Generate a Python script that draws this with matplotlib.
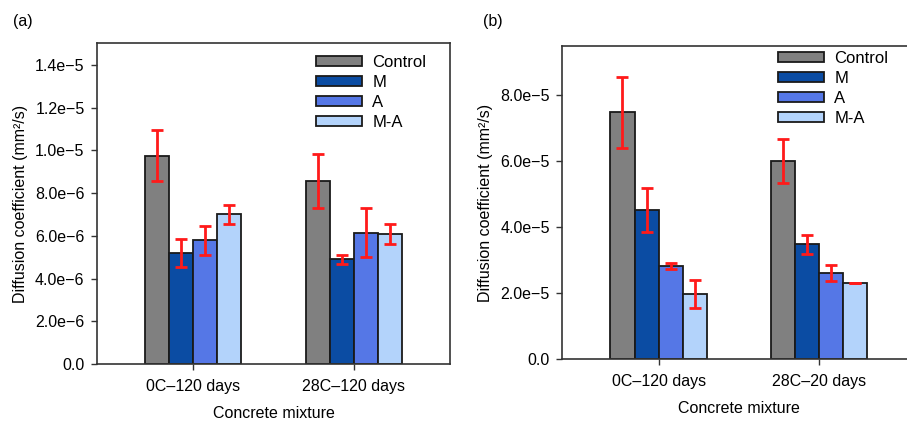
import numpy as np
import matplotlib
matplotlib.use("Agg")
import matplotlib.pyplot as plt
from matplotlib.ticker import FuncFormatter, MultipleLocator

plt.rcParams['font.family'] = ['Liberation Sans', 'DejaVu Sans']

series = ["Control", "M", "A", "M-A"]
colors = ["#808080", "#0b4ca3", "#5577e6", "#b3d3fb"]

groups_a = ["0C–120 days", "28C–120 days"]
values_a = [[9.75e-6, 8.55e-6], [5.2e-6, 4.9e-6], [5.8e-6, 6.15e-6], [7.0e-6, 6.1e-6]]
errors_a = [[1.2e-6, 1.27e-6], [0.67e-6, 0.2e-6], [0.68e-6, 1.15e-6], [0.46e-6, 0.46e-6]]

groups_b = ["0C–120 days", "28C–20 days"]
values_b = [[7.48e-5, 6.02e-5], [4.52e-5, 3.48e-5], [2.82e-5, 2.62e-5], [1.97e-5, 2.31e-5]]
errors_b = [[1.08e-5, 0.67e-5], [0.67e-5, 0.28e-5], [0.09e-5, 0.24e-5], [0.42e-5, 0.01e-5]]

FS = 11.5


def sci_fmt(v, pos):
    if abs(v) < 1e-12:
        return "0.0"
    s = "%.1e" % v
    mant, exp = s.split("e")
    return "%se−%d" % (mant, abs(int(exp)))


def draw_panel(ax, groups, values, errors, ymax, step, legend_anchor):
    x = np.arange(len(groups))
    width = 0.15
    for i, name in enumerate(series):
        offs = (i - 1.5) * width
        ax.bar(x + offs, values[i], width, color=colors[i], edgecolor="#1a1a1a",
               linewidth=1.3, label=name, zorder=2)
        ax.errorbar(x + offs, values[i], yerr=errors[i], fmt="none", ecolor="#ff1a1a",
                    elinewidth=2, capsize=4.5, capthick=2, zorder=3)
    ax.set_xlim(-0.6, 1.6)
    ax.set_ylim(0, ymax)
    ax.set_xticks(x)
    ax.set_xticklabels(groups, fontsize=FS)
    ax.yaxis.set_major_locator(MultipleLocator(step))
    ax.yaxis.set_major_formatter(FuncFormatter(sci_fmt))
    ax.tick_params(axis="both", direction="out", length=4, width=1, labelsize=FS,
                   color="#333333")
    ax.tick_params(axis="y", pad=5)
    ax.tick_params(axis="x", pad=7)
    for sp in ax.spines.values():
        sp.set_color("#333333")
        sp.set_linewidth(1.2)
    ax.set_ylabel("Diffusion coefficient (mm²/s)", fontsize=FS, labelpad=5)
    ax.set_xlabel("Concrete mixture", fontsize=FS, labelpad=8)
    ax.legend(loc="upper left", bbox_to_anchor=legend_anchor, frameon=False,
              fontsize=12, handlelength=2.8, handleheight=0.55, labelspacing=0.3,
              handletextpad=0.6, borderpad=0, borderaxespad=0)


fig = plt.figure(figsize=(9.07, 4.21), dpi=100)
ax1 = fig.add_axes([0.107, 0.135, 0.389, 0.762])
ax2 = fig.add_axes([0.620, 0.147, 0.389, 0.744])

draw_panel(ax1, groups_a, values_a, errors_a, 1.5e-5, 2e-6, (0.62, 0.965))
draw_panel(ax2, groups_b, values_b, errors_b, 9.5e-5, 2e-5, (0.61, 0.985))

fig.text(0.014, 0.95, "(a)", fontsize=FS, va="center")
fig.text(0.532, 0.95, "(b)", fontsize=FS, va="center")

fig.savefig("out.png", dpi=100)
